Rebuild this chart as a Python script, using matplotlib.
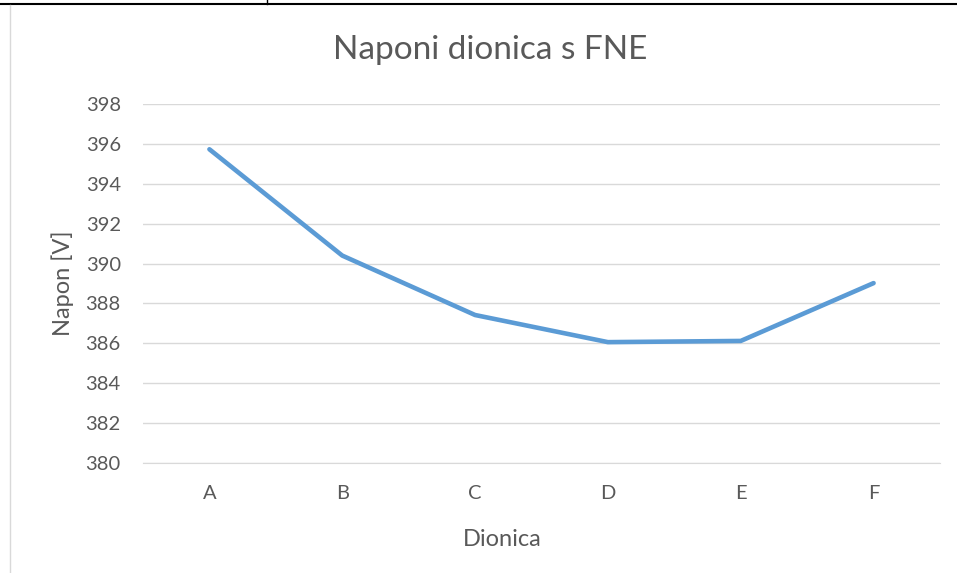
import matplotlib.pyplot as plt
from matplotlib.lines import Line2D

dionice = ['A', 'B', 'C', 'D', 'E', 'F']
naponi = [395.73, 390.4, 387.42, 386.06, 386.12, 389.02]
y_ticks = list(range(380, 399, 2))

plt.rcParams['font.family'] = ['Lato', 'DejaVu Sans']
grey = '#595959'

fig = plt.figure(figsize=(9.57, 5.73), dpi=100)
ax = fig.add_axes([143 / 957, 110 / 573, 797 / 957, 359 / 573])

x = range(len(dionice))
ax.plot(x, naponi, color='#5B9BD5', linewidth=3.3, solid_capstyle='round',
        solid_joinstyle='round', zorder=3)

ax.set_xlim(-0.5, len(dionice) - 0.5)
ax.set_ylim(380, 398)
ax.set_xticks(list(x))
ax.set_xticklabels(dionice)
ax.set_yticks(y_ticks)
ax.grid(axis='y', color='#D9D9D9', linewidth=1.0)
ax.set_axisbelow(True)
for s in ['top', 'right', 'left']:
    ax.spines[s].set_visible(False)
ax.spines['bottom'].set_color('#D9D9D9')
ax.tick_params(axis='both', length=0, colors=grey, labelsize=14.5)
ax.tick_params(axis='y', pad=16)
ax.tick_params(axis='x', pad=16)

ax.set_ylabel('Napon [V]', color=grey, fontsize=17, labelpad=8)
# Excel put the axis title a bit left of the plot centre
fig.text(502 / 957, 1 - 540 / 573, 'Dionica', color=grey, fontsize=17,
         ha='center', va='center')
fig.text(490 / 957, 1 - 50 / 573, 'Naponi dionica s FNE', color=grey, fontsize=24,
         ha='center', va='center')

# page edges around the pasted chart
fig.add_artist(Line2D([0, 1], [1 - 4 / 573, 1 - 4 / 573], color='black', linewidth=1.5))
fig.add_artist(Line2D([267 / 957, 267 / 957], [1 - 4 / 573, 1], color='black', linewidth=1))
fig.add_artist(Line2D([10 / 957, 10 / 957], [0, 1 - 5 / 573], color='#D9D9D9', linewidth=1))

fig.savefig('out.png', dpi=100)
